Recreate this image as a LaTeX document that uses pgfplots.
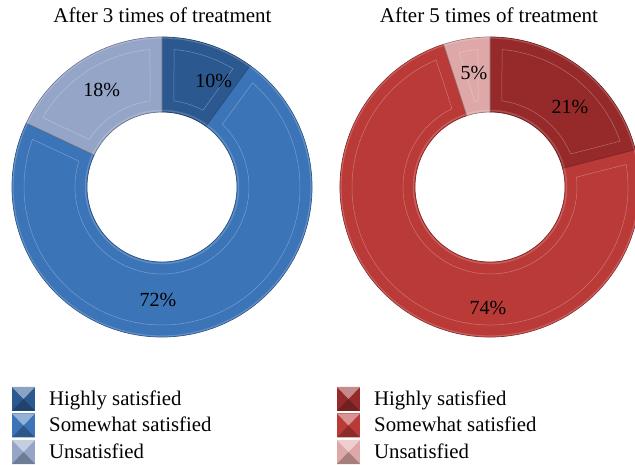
\documentclass[border=0pt]{standalone}
\usepackage{pgfplots}
\pgfplotsset{compat=1.18}
\usepackage{pgfplotstable}
\usepackage{fontspec}
\setmainfont{Liberation Serif}

\definecolor{bHigh}{RGB}{44,88,144}
\definecolor{bSome}{RGB}{60,116,184}
\definecolor{bUns}{RGB}{148,165,200}
\definecolor{rHigh}{RGB}{150,42,42}
\definecolor{rSome}{RGB}{186,58,56}
\definecolor{rUns}{RGB}{222,168,168}

\pgfplotstableread[col sep=comma]{
name,value,labang,labrad,col
Highly satisfied,10,64,118,bHigh
Somewhat satisfied,72,-92,113,bSome
Unsatisfied,18,122,114,bUns
}\leftdata

\pgfplotstableread[col sep=comma]{
name,value,labang,labrad,col
Highly satisfied,21,45,113,rHigh
Somewhat satisfied,74,-91,121,rSome
Unsatisfied,5,98,115,rUns
}\rightdata

\newcommand\drawdonut[3]{%
  \pgfplotstablegetrowsof{#1}%
  \pgfmathtruncatemacro\nlast{\pgfplotsretval-1}%
  \gdef\curang{90}%
  \foreach \i in {0,...,\nlast}{%
    \pgfplotstablegetelem{\i}{value}\of{#1}\let\val\pgfplotsretval
    \pgfplotstablegetelem{\i}{col}\of{#1}\let\col\pgfplotsretval
    \pgfplotstablegetelem{\i}{labang}\of{#1}\let\la\pgfplotsretval
    \pgfplotstablegetelem{\i}{labrad}\of{#1}\let\lr\pgfplotsretval
    \pgfmathsetmacro\sa{\curang}%
    \pgfmathsetmacro\ea{\curang-3.6*\val}%
    \pgfmathsetmacro\dA{5.0}%
    \pgfmathsetmacro\dB{7.9}%
    \pgfmathsetmacro\saO{\sa-\dA}\pgfmathsetmacro\eaO{\ea+\dA}%
    \pgfmathsetmacro\saI{\sa-\dB}\pgfmathsetmacro\eaI{\ea+\dB}%
    \fill[\col, draw=\col!70!black, line width=0.7bp]
      ([shift={(\sa:150bp)}]axis cs:#2,#3) arc[start angle=\sa, end angle=\ea, radius=150bp]
      -- ([shift={(\ea:75bp)}]axis cs:#2,#3) arc[start angle=\ea, end angle=\sa, radius=75bp] -- cycle;
    \draw[white, opacity=0.3, line width=0.5bp]
      ([shift={(\saO:138bp)}]axis cs:#2,#3) arc[start angle=\saO, end angle=\eaO, radius=138bp]
      -- ([shift={(\eaI:87bp)}]axis cs:#2,#3) arc[start angle=\eaI, end angle=\saI, radius=87bp] -- cycle;
    \draw[\col!60!white, opacity=0.5, line width=1.2bp]
      ([shift={(\sa:149bp)}]axis cs:#2,#3) arc[start angle=\sa, end angle=\ea, radius=149bp];
    \draw[\col!60!white, opacity=0.45, line width=1.5bp]
      ([shift={(\sa:76.5bp)}]axis cs:#2,#3) arc[start angle=\sa, end angle=\ea, radius=76.5bp];
    \node[font=\fontsize{20bp}{23bp}\selectfont] at ([shift={(\la:\lr bp)}]axis cs:#2,#3) {\val\%};
    \xdef\curang{\ea}%
  }%
}

\newcommand\drawlegend[2]{%
  \pgfplotstablegetrowsof{#1}%
  \pgfmathtruncatemacro\nlast{\pgfplotsretval-1}%
  \foreach \i in {0,...,\nlast}{%
    \pgfplotstablegetelem{\i}{col}\of{#1}\let\col\pgfplotsretval
    \pgfplotstablegetelem{\i}{name}\of{#1}\let\nm\pgfplotsretval
    \pgfmathsetmacro\yt{465-387-26.5*\i}%
    \pgfmathsetmacro\yb{\yt-24}%
    \pgfmathsetmacro\ym{\yt-12}%
    \pgfmathsetmacro\xr{#2+23}%
    \pgfmathsetmacro\xm{#2+11.5}%
    \pgfmathsetmacro\ybase{465-405-26.5*\i}%
    \fill[\col] (axis cs:#2,\yb) rectangle (axis cs:\xr,\yt);
    \fill[\col!55!white] (axis cs:#2,\yt) -- (axis cs:\xr,\yt) -- (axis cs:\xm,\ym) -- cycle;
    \fill[\col!75!black] (axis cs:#2,\yb) -- (axis cs:\xr,\yb) -- (axis cs:\xm,\ym) -- cycle;
    \pgfmathsetmacro\xt{#2+37}%
    \node[anchor=base west, inner sep=0pt, font=\fontsize{20.8bp}{24bp}\selectfont] at (axis cs:\xt,\ybase) {\nm};
  }%
}

\begin{document}
\begin{tikzpicture}
\useasboundingbox (0,0) rectangle (635bp,465bp);
\clip (0,0) rectangle (635bp,465bp);
\begin{axis}[
  at={(0,0)}, anchor=south west,
  scale only axis, hide axis, clip=false,
  x=1bp, y=1bp,
  xmin=0, xmax=635, ymin=0, ymax=465,
]
\pgfplotsextra{%
  \drawdonut{\leftdata}{162}{278}%
  \drawdonut{\rightdata}{490}{278}%
  \drawlegend{\leftdata}{12}%
  \drawlegend{\rightdata}{337}%
  \node[anchor=base, inner sep=0pt, font=\fontsize{21bp}{24bp}\selectfont] at (axis cs:162.5,442) {After 3 times of treatment};
  \node[anchor=base, inner sep=0pt, font=\fontsize{21bp}{24bp}\selectfont] at (axis cs:489,442) {After 5 times of treatment};
}
\end{axis}
\end{tikzpicture}
\end{document}
